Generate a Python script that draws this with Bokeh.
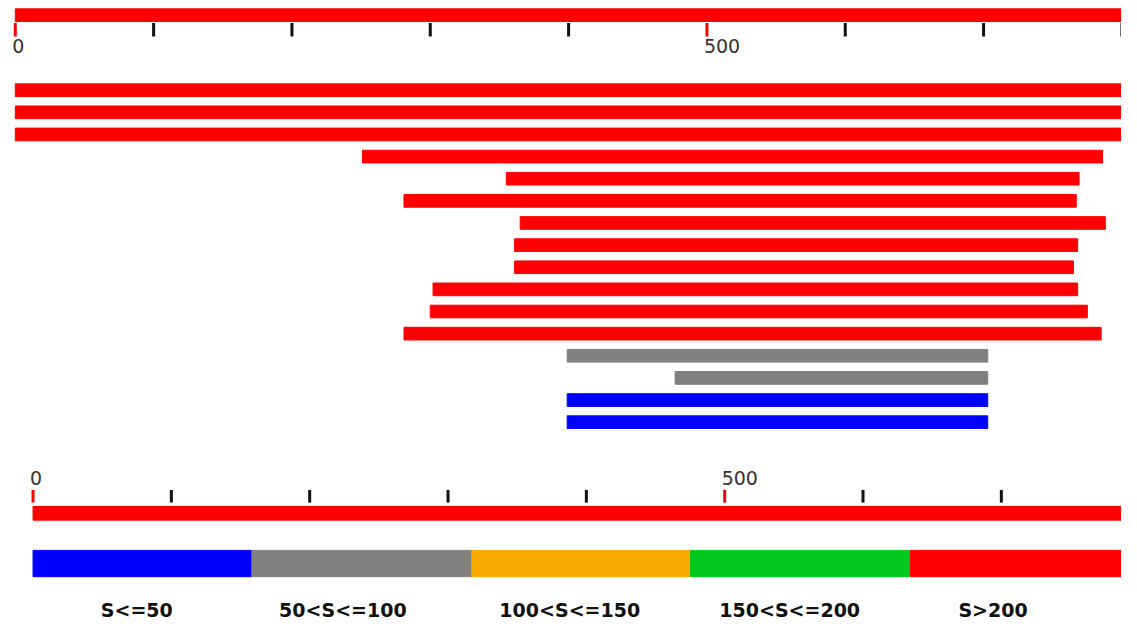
from bokeh.plotting import figure
from bokeh.models import Range1d
from bokeh.core.properties import value
from bokeh.embed import file_html
from bokeh.resources import INLINE

# ---- data ----
query_length = 800
tick_values = [0, 100, 200, 300, 400, 500, 600, 700, 800]
tick_labels = {0: "0", 500: "500"}

hit_starts = [0, 0, 0, 251, 355, 281, 365, 361, 361, 302, 300, 281, 399, 477, 399, 399]
hit_ends = [800, 800, 800, 786, 769, 767, 788, 768, 765, 768, 775, 785, 703, 703, 703, 703]
hit_colors = ["#FF0000"] * 12 + ["#808080", "#808080", "#0000FF", "#0000FF"]

legend_labels = ["S<=50", "50<S<=100", "100<S<=150", "150<S<=200", "S>200"]
legend_colors = ["#0000FF", "#808080", "#F7AA00", "#00C81E", "#FF0000"]
legend_bounds = [0, 158.2, 317.2, 475.4, 634.4, 792.7]
legend_label_x = [75, 224, 388, 547, 694]

# ---- figure ----
W, H = 1121, 623
p = figure(width=W, height=H, output_backend="svg", toolbar_location=None,
           x_range=Range1d(-10.69, 799.7), y_range=Range1d(639, 0),
           min_border=0, min_border_left=0, min_border_right=0,
           min_border_top=0, min_border_bottom=0)
p.extra_x_ranges = {"bottom": Range1d(-23.52, 786.86)}
p.axis.visible = False
p.grid.visible = False
p.outline_line_color = None
p.background_fill_color = "white"
p.border_fill_color = "white"

tick_cols = ["#FF0000" if t in tick_labels else "#111111" for t in tick_values]
lab_x = list(tick_labels.keys())
lab_t = [tick_labels[k] for k in lab_x]

# top query bar + ticks
p.hbar(y=[15], left=[0], right=[query_length], height=13, color="#FF0000")
p.segment(x0=tick_values, x1=tick_values, y0=[23] * len(tick_values), y1=[37] * len(tick_values),
          line_color=tick_cols, line_width=3)
p.text(x=lab_x, y=[47] * len(lab_x), text=lab_t,
       text_font=value("DejaVu Sans"), text_font_size="19px", text_color="#333333",
       text_align="left", text_baseline="middle", x_offset=-3)

# hits
row_y = [92 + i * 22.7 for i in range(len(hit_starts))]
p.hbar(y=row_y, left=hit_starts, right=hit_ends, height=13, color=hit_colors)

# bottom axis
p.hbar(y=[526], left=[0], right=[query_length], height=14, color="#FF0000", x_range_name="bottom")
p.segment(x0=tick_values, x1=tick_values, y0=[502] * len(tick_values), y1=[515] * len(tick_values),
          line_color=tick_cols, line_width=3, x_range_name="bottom")
p.text(x=lab_x, y=[490] * len(lab_x), text=lab_t,
       text_font=value("DejaVu Sans"), text_font_size="19px", text_color="#333333",
       text_align="left", text_baseline="middle", x_offset=-3, x_range_name="bottom")

# color legend
p.hbar(y=[577.5] * 5, left=legend_bounds[:-1], right=legend_bounds[1:], height=27,
       color=legend_colors, x_range_name="bottom")
p.text(x=legend_label_x, y=[625] * 5, text=legend_labels,
       text_font=value("DejaVu Sans"), text_font_style="bold", text_font_size="19px",
       text_color="#111111", text_align="center", text_baseline="middle", x_range_name="bottom")

open("out.html", "w").write(file_html(p, INLINE))
